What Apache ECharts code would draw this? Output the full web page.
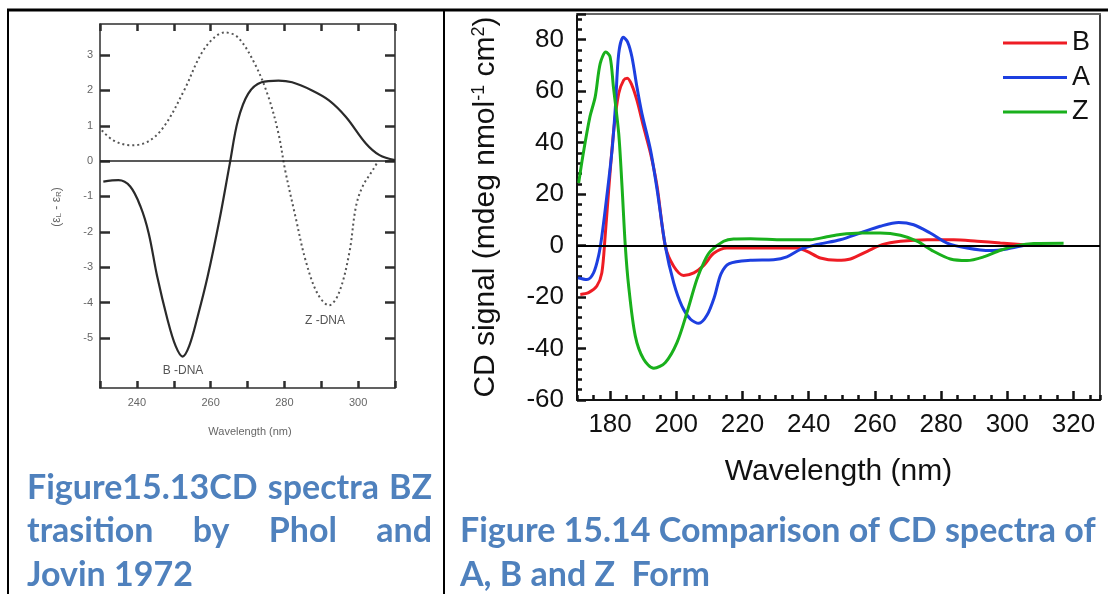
<!DOCTYPE html>
<html>
<head>
<meta charset="utf-8">
<script src="https://cdn.jsdelivr.net/npm/echarts@6/dist/echarts.min.js"></script>
<style>
  html, body { margin: 0; padding: 0; background: #fff; }
  #page { position: absolute; left: 0; top: 0; width: 1108px; height: 594px; }
  #bz { position: absolute; left: 12px; top: 14px; width: 428px; height: 432px; filter: blur(0.6px); }
</style>
</head>
<body>
<div id="page"></div>
<div id="bz"></div>
<script>
// ---------- Figure 15.13 : B-Z transition (Pohl & Jovin 1972) ----------
const bdnaWave = [230.9, 235, 238.2, 241, 243.2, 245.5, 248.3, 250.5, 252.4, 254.2, 256.5, 259.2, 262.4, 265.2, 267.4, 270.2, 273.8, 278.4, 282.1, 287.5, 292.1, 296.7, 302.1, 305.8, 310];
const bdnaEps  = [-0.58, -0.54, -0.72, -1.29, -2.04, -3.26, -4.48, -5.23, -5.53, -5.23, -4.39, -3.26, -1.66, -0.07, 1.15, 1.91, 2.23, 2.28, 2.23, 2.0, 1.72, 1.25, 0.5, 0.17, 0.03];
const zdnaWave = [230.5, 233.6, 238.2, 242.8, 247.3, 252.8, 257.4, 261, 263.8, 267.4, 272, 275.7, 278.4, 280.2, 283, 285.7, 288.9, 292.1, 294.8, 297.6, 299.4, 301.2, 304, 305.3];
const zdnaEps  = [0.87, 0.59, 0.45, 0.54, 0.97, 2.0, 3.03, 3.5, 3.64, 3.5, 2.75, 1.81, 0.78, -0.25, -1.57, -2.79, -3.73, -4.08, -3.73, -2.6, -1.29, -0.72, -0.25, -0.02];
const bzEpsTicks = [-5, -4, -3, -2, -1, 0, 1, 2, 3];

// ---------- Figure 15.14 : CD spectra of A, B and Z forms ----------
const bWave = [171, 173.5, 176, 177.5, 178.5, 179.5, 181.1, 182.6, 184.1, 185.2, 186.6, 188.1, 190.1, 192.2, 194.2, 196.7, 199.2, 202.2, 205.3, 208.3, 211.3, 215.3, 222.4, 236.5, 239.5, 243.5, 248.6, 252.6, 257.7, 262.2, 267.7, 275.8, 283.8, 290.9, 297.9, 304, 306];
const bSignal = [-19, -18.3, -15.7, -10.6, 3.6, 20.4, 44.9, 59.1, 64.3, 65, 62.3, 56.5, 46.2, 35.9, 23, -0.3, -8, -11.6, -10.6, -7.7, -3, -0.9, -0.9, -0.9, -2.2, -4.8, -5.7, -5.2, -2.2, 0.4, 1.7, 2.3, 2.3, 1.7, 1.0, 0.4, 0.1];
const aWave = [170.3, 173, 175, 176.5, 177.5, 179, 180.6, 181.6, 182.6, 184, 185.3, 186.6, 188.1, 189.6, 192.2, 194.2, 196.7, 199.2, 201.7, 204.3, 206.8, 209.3, 211.5, 213.5, 216, 222.4, 229.4, 233.4, 237.5, 242.5, 249.5, 255.6, 261.6, 267.2, 271.7, 276.7, 281.8, 287.8, 294.9, 299.9, 304.9, 306];
const aSignal = [-12.5, -13.2, -10.6, -4.1, 3.6, 19.1, 37.2, 53.9, 74.6, 81, 79.1, 73.3, 61.7, 51.4, 37.2, 21.7, -0.3, -14.4, -23.5, -28.6, -30.2, -27, -20, -11, -7, -5.7, -5.5, -4.4, -1.5, 0.4, 2.3, 4.9, 7.5, 9.0, 8.1, 4.9, 1.0, -0.9, -1.9, -1.3, 0, 0.2];
const zWave = [170.5, 171.9, 173.9, 175.5, 177, 178.7, 180, 181, 182.6, 183.6, 184.6, 185.6, 187.6, 190.1, 193.2, 196.7, 200.2, 203.2, 206.2, 208.5, 210.3, 214.3, 217.3, 222.4, 232.4, 240.5, 245.5, 249.5, 255.6, 261.6, 267.7, 272.7, 277.7, 282.8, 287.8, 292.8, 297.9, 302.9, 308, 317];
const zSignal = [24.3, 35.9, 50, 57.8, 70.7, 75.2, 73.3, 61.7, 43.6, 23, -0.3, -15.7, -35.1, -44.1, -47.7, -45.4, -37.7, -26.1, -13.2, -6, -2.2, 1.7, 2.6, 2.7, 2.3, 2.3, 3.4, 4.3, 4.9, 4.9, 4.0, 1.7, -2.2, -5.2, -5.8, -4.4, -1.8, 0, 0.8, 0.9];
const cdWaveTicks = [180, 200, 220, 240, 260, 280, 300, 320];

// caption lines
const leftCaption = [
  ['Figure15.13CD', 'spectra', 'BZ'],
  ['trasition', 'by', 'Phol', 'and'],
  ['Jovin 1972']
];
const rightCaption = ['Figure 15.14 Comparison of CD spectra of', 'A, B and Z  Form'];

const pairs = (xs, ys) => xs.map((x, i) => [x, ys[i]]);

// ---------------- left panel ----------------
const bz = echarts.init(document.getElementById('bz'), null, { renderer: 'canvas' });
const OX = 12, OY = 14;              // offset of the left panel's box on the page
const smallFont = 'Liberation Sans';
const frameColor = '#2e2e2e';

function bzWaveAxis(position, withLabels) {
  return {
    type: 'value', min: 230, max: 310, interval: 10, position: position,
    axisLine: { show: true, onZero: false, lineStyle: { color: frameColor, width: 1.5 } },
    axisTick: { show: true, inside: true, length: 7, lineStyle: { color: frameColor, width: 2.5 } },
    axisLabel: withLabels ? {
      show: true, color: '#666', fontSize: 11, fontFamily: smallFont, margin: 9,
      formatter: v => (v % 20 === 0 && v > 230 && v < 310) ? String(v) : ''
    } : { show: false },
    splitLine: { show: false }
  };
}
function bzEpsAxis(position, withLabels) {
  return {
    type: 'value', min: -6.42, max: 3.88, position: position,
    axisLine: { show: true, onZero: false, lineStyle: { color: frameColor, width: 1.5 } },
    axisTick: { show: true, inside: true, length: 10, customValues: bzEpsTicks.slice(), lineStyle: { color: frameColor, width: 2.5 } },
    axisLabel: withLabels ? { show: true, customValues: bzEpsTicks.slice(), color: '#666', fontSize: 11, fontFamily: smallFont, margin: 7 } : { show: false },
    splitLine: { show: false }
  };
}

bz.setOption({
  animation: false,
  grid: { left: 100 - OX, top: 24 - OY, width: 295, height: 364, containLabel: false, outerBoundsMode: 'none' },
  xAxis: [bzWaveAxis('bottom', true), bzWaveAxis('top', false)],
  yAxis: [bzEpsAxis('left', true), bzEpsAxis('right', false)],
  series: [
    {
      name: 'B-DNA', type: 'line', data: pairs(bdnaWave, bdnaEps),
      smooth: 0.35, symbol: 'none',
      lineStyle: { color: '#2a2a2a', width: 2.2 },
      markLine: {
        silent: true, symbol: 'none', label: { show: false },
        lineStyle: { color: '#222', width: 1.5, type: 'solid' },
        data: [{ yAxis: 0 }]
      }
    },
    {
      name: 'Z-DNA', type: 'line', data: pairs(zdnaWave, zdnaEps),
      smooth: 0.35, symbol: 'none',
      lineStyle: { color: '#555', width: 2, type: [2, 3] }
    }
  ],
  graphic: [
    { type: 'text', x: 183 - OX, y: 371 - OY,
      style: { text: 'B -DNA', font: '12px "Liberation Sans"', fill: '#555', align: 'center', verticalAlign: 'middle', textAlign: 'center', textVerticalAlign: 'middle' } },
    { type: 'text', x: 325 - OX, y: 321 - OY,
      style: { text: 'Z -DNA', font: '12px "Liberation Sans"', fill: '#555', align: 'center', verticalAlign: 'middle', textAlign: 'center', textVerticalAlign: 'middle' } },
    { type: 'text', x: 250 - OX, y: 432 - OY,
      style: { text: 'Wavelength (nm)', font: '11px "Liberation Sans"', fill: '#666', align: 'center', verticalAlign: 'middle', textAlign: 'center', textVerticalAlign: 'middle' } },
    { type: 'text', x: 57 - OX, y: 207 - OY, rotation: Math.PI / 2,
      style: {
        text: '{t|(ε}{s|L}{t| - ε}{s|R}{t|)}',
        align: 'center', verticalAlign: 'middle', textAlign: 'center', textVerticalAlign: 'middle',
        rich: {
          t: { fontSize: 12, fontFamily: smallFont, fill: '#666', color: '#666' },
          s: { fontSize: 8, fontFamily: smallFont, fill: '#666', color: '#666', verticalAlign: 'bottom' }
        }
      } }
  ]
});

// ---------------- right panel, table rules and captions ----------------
const page = echarts.init(document.getElementById('page'), null, { renderer: 'canvas' });
const ink = '#111';
const fam = 'Liberation Sans';
const capFont = 'bold 34px Lato';
const capColor = '#4f81bd';

// word placement for the justified caption lines
const measureCtx = document.createElement('canvas').getContext('2d');
measureCtx.font = capFont;
function capText(t, x, y) {
  return { type: 'text', x: x, y: y,
    style: { text: t, font: capFont, fill: capColor, align: 'left', verticalAlign: 'middle', textAlign: 'left', textVerticalAlign: 'middle' } };
}
function justifyLine(words, x0, x1, y) {
  const widths = words.map(w => measureCtx.measureText(w).width);
  const total = widths.reduce((a, b) => a + b, 0);
  const gap = words.length > 1 ? (x1 - x0 - total) / (words.length - 1) : 0;
  let x = x0;
  return words.map((w, i) => {
    const el = capText(w, x, y);
    x += widths[i] + gap;
    return el;
  });
}
const captionEls = []
  .concat(justifyLine(leftCaption[0], 27, 432, 488))
  .concat(justifyLine(leftCaption[1], 27, 432, 531))
  .concat([capText(leftCaption[2][0], 27, 575)])
  .concat(rightCaption.map((t, i) => capText(t, 460, 531 + i * 44)));

const ruleEls = [
  { type: 'line', shape: { x1: 7, y1: 10, x2: 1108, y2: 10 }, style: { stroke: '#000', lineWidth: 3 } },
  { type: 'line', shape: { x1: 8, y1: 9, x2: 8, y2: 594 }, style: { stroke: '#000', lineWidth: 2 } },
  { type: 'line', shape: { x1: 444, y1: 9, x2: 444, y2: 594 }, style: { stroke: '#000', lineWidth: 2 } }
];

const cdLine = (name, xs, ys, color) => ({
  name: name, type: 'line', data: pairs(xs, ys),
  smooth: 0.3, symbol: 'none', xAxisIndex: 0, yAxisIndex: 0,
  lineStyle: { color: color, width: 3 }, itemStyle: { color: color }
});

const seriesB = cdLine('B', bWave, bSignal, '#ee1c24');
seriesB.markLine = {
  silent: true, symbol: 'none', label: { show: false },
  lineStyle: { color: '#000', width: 2, type: 'solid' },
  data: [{ yAxis: 0 }]
};

page.setOption({
  animation: false,
  grid: { left: 577, top: 14, width: 523, height: 386, containLabel: false, outerBoundsMode: 'none' },
  legend: {
    data: ['B', 'A', 'Z'], orient: 'vertical', left: 1003, top: 29.5, padding: 0,
    icon: 'rect', itemWidth: 64, itemHeight: 3, itemGap: 7.5,
    textStyle: { fontSize: 27, lineHeight: 27, fontFamily: fam, color: ink }
  },
  xAxis: [
    {
      type: 'value', min: 170, max: 328, position: 'bottom',
      axisLine: { show: true, onZero: false, lineStyle: { color: ink, width: 2 } },
      axisTick: { show: true, inside: true, length: 9, customValues: cdWaveTicks.slice(), lineStyle: { color: ink, width: 2.5 } },
      axisLabel: { show: true, customValues: cdWaveTicks.slice(), fontSize: 26, fontFamily: fam, color: ink, margin: 12 },
      splitLine: { show: false },
      name: 'Wavelength (nm)', nameLocation: 'middle', nameGap: 57,
      nameTextStyle: { fontSize: 30, fontFamily: fam, color: ink }
    },
    {
      type: 'value', min: 170, max: 328, interval: 5, position: 'bottom',
      axisLine: { show: false, onZero: false },
      axisTick: { show: true, inside: true, length: 5, lineStyle: { color: ink, width: 2.5 } },
      axisLabel: { show: false }, splitLine: { show: false }
    },
    {
      type: 'value', min: 170, max: 328, position: 'top',
      axisLine: { show: true, onZero: false, lineStyle: { color: '#666', width: 2 } },
      axisTick: { show: false }, axisLabel: { show: false }, splitLine: { show: false }
    }
  ],
  yAxis: [
    {
      type: 'value', min: -60, max: 90, interval: 20, position: 'left',
      axisLine: { show: true, onZero: false, lineStyle: { color: ink, width: 2 } },
      axisTick: { show: true, inside: true, length: 9, lineStyle: { color: ink, width: 2.5 } },
      minorTick: { show: true, splitNumber: 5, length: 5, lineStyle: { color: ink, width: 2.5 } },
      axisLabel: { fontSize: 26, fontFamily: fam, color: ink, margin: 13 },
      splitLine: { show: false }, minorSplitLine: { show: false },
      name: '{t|CD signal (mdeg nmol}{s|-1}{t| cm}{s|2}{t|)}',
      nameLocation: 'middle', nameGap: 75, nameRotate: 90,
      nameTextStyle: {
        rich: {
          t: { fontSize: 30, fontFamily: fam, color: ink, lineHeight: 32 },
          s: { fontSize: 18, fontFamily: fam, color: ink, verticalAlign: 'top', lineHeight: 18 }
        }
      }
    },
    {
      type: 'value', min: -60, max: 90, position: 'right',
      axisLine: { show: true, onZero: false, lineStyle: { color: '#444', width: 2 } },
      axisTick: { show: false }, axisLabel: { show: false }, splitLine: { show: false }
    }
  ],
  series: [
    seriesB,
    cdLine('A', aWave, aSignal, '#1d3fe0'),
    cdLine('Z', zWave, zSignal, '#19b01c')
  ],
  graphic: ruleEls.concat(captionEls)
});
</script>
</body>
</html>
